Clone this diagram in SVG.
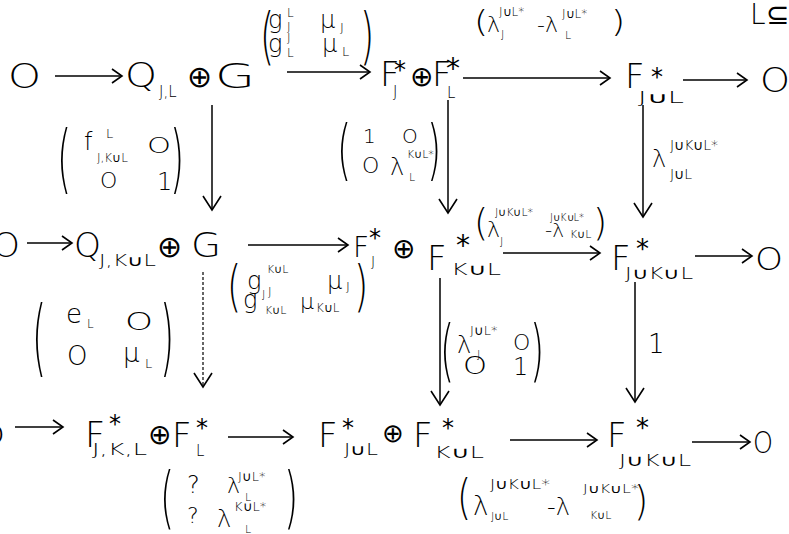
<svg xmlns="http://www.w3.org/2000/svg" width="789" height="534" viewBox="0 0 789 534">
<style>
text{font-family:"DejaVu Sans","Liberation Sans",sans-serif;font-weight:200;fill:#000}
.st{font-weight:400}
.p{font-size:28px}
.ln{stroke:#000;stroke-width:1.5;fill:none}
.dash{stroke-dasharray:3 2;stroke-width:1.2}
</style>
<defs>
<marker id="ah" markerUnits="userSpaceOnUse" markerWidth="14" markerHeight="20" viewBox="-12 -10 14 20" refX="0" refY="0" orient="auto"><path d="M-10,-7 L0,0 L-10,7" fill="none" stroke="#000" stroke-width="1.6"/></marker>
<marker id="av" markerUnits="userSpaceOnUse" markerWidth="18" markerHeight="22" viewBox="-16 -11 18 22" refX="0" refY="0" orient="auto"><path d="M-14,-9 L0,0 L-14,9" fill="none" stroke="#000" stroke-width="1.6"/></marker>
</defs>
<rect width="789" height="534" fill="#fff"/>

<g id="connectors">
<line class="ln" x1="55" y1="76" x2="122" y2="76" marker-end="url(#ah)"/>
<line class="ln" x1="287" y1="72" x2="370" y2="72" marker-end="url(#ah)"/>
<line class="ln" x1="463" y1="78" x2="610" y2="78" marker-end="url(#ah)"/>
<line class="ln" x1="683" y1="80" x2="747" y2="80" marker-end="url(#ah)"/>
<line class="ln" x1="212" y1="105" x2="212" y2="210" marker-end="url(#av)"/>
<line class="ln" x1="448" y1="100" x2="448" y2="213" marker-end="url(#av)"/>
<line class="ln" x1="643" y1="105" x2="643" y2="217" marker-end="url(#av)"/>
<line class="ln" x1="27" y1="243" x2="72" y2="243" marker-end="url(#ah)"/>
<line class="ln" x1="248" y1="245" x2="348" y2="245" marker-end="url(#ah)"/>
<line class="ln" x1="503" y1="253" x2="600" y2="253" marker-end="url(#ah)"/>
<line class="ln" x1="695" y1="256" x2="752" y2="256" marker-end="url(#ah)"/>
<line class="ln dash" x1="203" y1="272" x2="203" y2="387" marker-end="url(#av)"/>
<line class="ln" x1="440" y1="278" x2="440" y2="405" marker-end="url(#av)"/>
<line class="ln" x1="635" y1="282" x2="635" y2="402" marker-end="url(#av)"/>
<line class="ln" x1="15" y1="427" x2="63" y2="427" marker-end="url(#ah)"/>
<line class="ln" x1="228" y1="437" x2="293" y2="437" marker-end="url(#ah)"/>
<line class="ln" x1="510" y1="440" x2="597" y2="440" marker-end="url(#ah)"/>
<line class="ln" x1="692" y1="442" x2="750" y2="442" marker-end="url(#ah)"/>
</g>

<g id="corner-label"><text x="750" y="24" font-size="28">L⊆</text></g>

<!-- Row 1 -->
<g id="r1-zero-left"><text x="8" y="88" font-size="34" textLength="33" lengthAdjust="spacingAndGlyphs">O</text></g>
<g id="r1-QJL-G">
<text x="125" y="87" font-size="34" textLength="32" lengthAdjust="spacingAndGlyphs">Q</text>
<text x="159" y="97" font-size="15">J,L</text>
<text x="187" y="87" font-size="30">⊕</text>
<text x="215" y="88" font-size="34" textLength="40" lengthAdjust="spacingAndGlyphs">G</text>
</g>
<g id="r1-FJ-FL">
<text x="380" y="86" font-size="34">F</text>
<text class="st" x="394" y="78" font-size="24">*</text>
<text x="393" y="97" font-size="15">J</text>
<text x="410" y="86" font-size="28">⊕</text>
<text x="432" y="86" font-size="34">F</text>
<text class="st" x="446" y="78" font-size="28">*</text>
<text x="447" y="98" font-size="15">L</text>
</g>
<g id="r1-FJuL">
<text x="625" y="88" font-size="34">F</text>
<text class="st" x="651" y="85" font-size="24">*</text>
<text x="638" y="103" font-size="15" textLength="46" lengthAdjust="spacingAndGlyphs">J∪L</text>
</g>
<g id="r1-zero-right"><text x="760" y="92" font-size="34" textLength="30" lengthAdjust="spacingAndGlyphs">O</text></g>

<!-- Row 1 labels -->
<g id="lbl-r1-a">
<text class="p" transform="translate(260,57) scale(1.3,2.2)">(</text>
<text x="268" y="28" font-size="24">g</text>
<text x="287" y="17" font-size="12">L</text>
<text x="287" y="31" font-size="12">J</text>
<text x="320" y="28" font-size="24">μ</text>
<text x="340" y="32" font-size="13">J</text>
<text x="268" y="52" font-size="24">g</text>
<text x="287" y="42" font-size="12">J</text>
<text x="287" y="57" font-size="12">L</text>
<text x="322" y="52" font-size="24">μ</text>
<text x="342" y="56" font-size="13">L</text>
<text class="p" transform="translate(360,57) scale(1.3,2.2)">)</text>
</g>
<g id="lbl-r1-b">
<text class="p" transform="translate(474,31.5) scale(1.3,1.1)">(</text>
<text x="487" y="32" font-size="22">λ</text>
<text x="499" y="16" font-size="12">J∪L*</text>
<text x="501" y="38" font-size="11">J</text>
<text x="537" y="32" font-size="22">-λ</text>
<text x="562" y="18" font-size="12">J∪L*</text>
<text x="565" y="39" font-size="11">L</text>
<text class="p" transform="translate(611,31.5) scale(1.3,1.1)">)</text>
</g>
<g id="lbl-v1-left">
<text class="p" transform="translate(57,183.5) scale(1.3,2.65)">(</text>
<text x="84" y="150" font-size="24">f</text>
<text x="106" y="138" font-size="13">L</text>
<text x="97" y="162" font-size="12">J,K∪L</text>
<text x="147" y="153" font-size="22" textLength="24" lengthAdjust="spacingAndGlyphs">O</text>
<text x="100" y="188" font-size="22">O</text>
<text x="157" y="190" font-size="24">1</text>
<text class="p" transform="translate(170,183.5) scale(1.3,2.65)">)</text>
</g>
<g id="lbl-v1-mid">
<text class="p" transform="translate(337,171.6) scale(1.3,2.33)">(</text>
<text x="363" y="143" font-size="20">1</text>
<text x="402" y="143" font-size="20">O</text>
<text x="362" y="173" font-size="22">O</text>
<text x="390" y="175" font-size="24">λ</text>
<text x="407" y="158" font-size="11">K∪L*</text>
<text x="409" y="181" font-size="11">L</text>
<text class="p" transform="translate(427,171.6) scale(1.3,2.33)">)</text>
</g>
<g id="lbl-v1-right">
<text x="652" y="167" font-size="24">λ</text>
<text x="670" y="150" font-size="14">J∪K∪L*</text>
<text x="670" y="179" font-size="14">J∪L</text>
</g>

<!-- Row 2 -->
<g id="r2-zero-left"><text x="-8" y="257" font-size="34" textLength="28" lengthAdjust="spacingAndGlyphs">O</text></g>
<g id="r2-QJKL-G">
<text x="74" y="257" font-size="34" textLength="27" lengthAdjust="spacingAndGlyphs">Q</text>
<text x="99" y="266" font-size="15" textLength="57" lengthAdjust="spacingAndGlyphs">J,K∪L</text>
<text x="157" y="257" font-size="30">⊕</text>
<text x="191" y="257" font-size="34" textLength="30" lengthAdjust="spacingAndGlyphs">G</text>
</g>
<g id="r2-FJ-FKL">
<text x="353" y="257" font-size="28">F</text>
<text class="st" x="369" y="246" font-size="24">*</text>
<text x="371" y="266" font-size="14">J</text>
<text x="392" y="258" font-size="28">⊕</text>
<text x="427" y="270" font-size="34">F</text>
<text class="st" x="456" y="255" font-size="28">*</text>
<text x="451" y="275" font-size="16" textLength="50" lengthAdjust="spacingAndGlyphs">K∪L</text>
</g>
<g id="r2-FJuKuL">
<text x="611" y="270" font-size="34">F</text>
<text class="st" x="636" y="258" font-size="26">*</text>
<text x="625" y="279" font-size="16" textLength="68" lengthAdjust="spacingAndGlyphs">J∪K∪L</text>
</g>
<g id="r2-zero-right"><text x="755" y="270" font-size="32" textLength="28" lengthAdjust="spacingAndGlyphs">O</text></g>

<!-- Row 2 labels -->
<g id="lbl-r2-a">
<text class="p" transform="translate(227,304.9) scale(1.3,1.97)">(</text>
<text x="247" y="289" font-size="24">g</text>
<text x="267" y="273" font-size="11">K∪L</text>
<text x="268" y="296" font-size="12">J</text>
<text x="327" y="289" font-size="24">μ</text>
<text x="346" y="291" font-size="13">J</text>
<text x="243" y="308" font-size="24">g</text>
<text x="262" y="298" font-size="11">J</text>
<text x="265" y="314" font-size="11">K∪L</text>
<text x="300" y="309" font-size="22">μ</text>
<text x="316" y="312" font-size="12">K∪L</text>
<text class="p" transform="translate(354,304.9) scale(1.3,1.97)">)</text>
</g>
<g id="lbl-r2-b">
<text class="p" transform="translate(474,235.2) scale(1.3,1.33)">(</text>
<text x="487" y="237" font-size="22">λ</text>
<text x="495" y="216" font-size="11">J∪K∪L*</text>
<text x="500" y="245" font-size="11">J</text>
<text x="545" y="237" font-size="20">-λ</text>
<text x="550" y="221" font-size="10">J∪K∪L*</text>
<text x="570" y="238" font-size="11">K∪L</text>
<text class="p" transform="translate(593,235.2) scale(1.3,1.33)">)</text>
</g>
<g id="lbl-v2-left">
<text class="p" transform="translate(32,366.3) scale(1.3,2.97)">(</text>
<text x="66" y="323" font-size="26">e</text>
<text x="87" y="328" font-size="12">L</text>
<text x="125" y="330" font-size="24" textLength="28" lengthAdjust="spacingAndGlyphs">O</text>
<text x="67" y="365" font-size="26">O</text>
<text x="123" y="362" font-size="26">μ</text>
<text x="145" y="368" font-size="13">L</text>
<text class="p" transform="translate(160,366.3) scale(1.3,2.97)">)</text>
</g>
<g id="lbl-v2-mid">
<text class="p" transform="translate(440,374.3) scale(1.3,2.41)">(</text>
<text x="457" y="353" font-size="24">λ</text>
<text x="470" y="335" font-size="13">J∪L*</text>
<text x="477" y="358" font-size="11">J</text>
<text x="513" y="350" font-size="22">O</text>
<text x="463" y="374" font-size="24" textLength="24" lengthAdjust="spacingAndGlyphs">O</text>
<text x="513" y="375" font-size="24">1</text>
<text class="p" transform="translate(530,374.3) scale(1.3,2.41)">)</text>
</g>
<g id="lbl-v2-right"><text x="648" y="353" font-size="26">1</text></g>

<!-- Row 3 -->
<g id="r3-zero-left"><text x="-22" y="445" font-size="28" textLength="27" lengthAdjust="spacingAndGlyphs">O</text></g>
<g id="r3-FJKL-FL">
<text x="85" y="447" font-size="35">F</text>
<text class="st" x="109" y="432" font-size="24">*</text>
<text x="92" y="455" font-size="15" textLength="55" lengthAdjust="spacingAndGlyphs">J,K,L</text>
<text x="148" y="444" font-size="28">⊕</text>
<text x="172" y="447" font-size="34">F</text>
<text class="st" x="196" y="436" font-size="24">*</text>
<text x="196" y="456" font-size="15">L</text>
</g>
<g id="r3-FJL-FKL">
<text x="318" y="447" font-size="34">F</text>
<text class="st" x="342" y="436" font-size="24">*</text>
<text x="344" y="455" font-size="15" textLength="34" lengthAdjust="spacingAndGlyphs">J∪L</text>
<text x="382" y="442" font-size="26">⊕</text>
<text x="413" y="447" font-size="34">F</text>
<text class="st" x="442" y="436" font-size="24">*</text>
<text x="434" y="458" font-size="16" textLength="50" lengthAdjust="spacingAndGlyphs">K∪L</text>
</g>
<g id="r3-FJuKuL">
<text x="607" y="447" font-size="34">F</text>
<text class="st" x="636" y="437" font-size="26">*</text>
<text x="619" y="466" font-size="16" textLength="72" lengthAdjust="spacingAndGlyphs">J∪K∪L</text>
</g>
<g id="r3-zero-right"><text x="753" y="453" font-size="30" textLength="20" lengthAdjust="spacingAndGlyphs">O</text></g>

<!-- Row 3 labels -->
<g id="lbl-r3-a">
<text class="p" transform="translate(160,521.3) scale(1.3,2.41)">(</text>
<text x="187" y="493" font-size="24">?</text>
<text x="227" y="493" font-size="22">λ</text>
<text x="238" y="481" font-size="13">J∪L*</text>
<text x="245" y="501" font-size="11">L</text>
<text x="187" y="523" font-size="22">?</text>
<text x="217" y="527" font-size="24">λ</text>
<text x="234" y="511" font-size="13">K∪L*</text>
<text x="245" y="533" font-size="11">L</text>
<text class="p" transform="translate(284,521.3) scale(1.3,2.41)">)</text>
</g>
<g id="lbl-r3-b">
<text class="p" transform="translate(457,513.8) scale(1.3,1.73)">(</text>
<text x="473" y="515" font-size="26">λ</text>
<text x="490" y="489" font-size="14" textLength="60" lengthAdjust="spacingAndGlyphs">J∪K∪L*</text>
<text x="491" y="520" font-size="11">J∪L</text>
<text x="547" y="515" font-size="24">-λ</text>
<text x="583" y="493" font-size="12" textLength="56" lengthAdjust="spacingAndGlyphs">J∪K∪L*</text>
<text x="590" y="519" font-size="11">K∪L</text>
<text class="p" transform="translate(634,514.7) scale(1.3,1.49)">)</text>
</g>
</svg>
